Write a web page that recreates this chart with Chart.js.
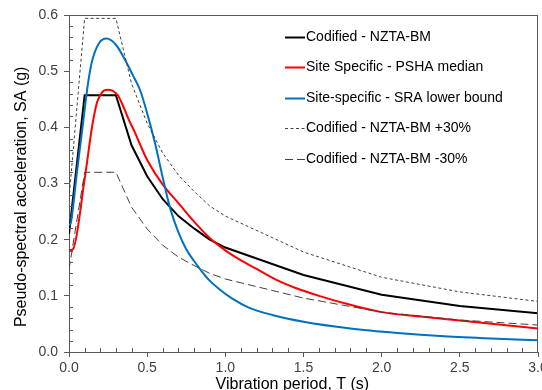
<!DOCTYPE html>
<html><head><meta charset="utf-8">
<script src="https://cdn.jsdelivr.net/npm/chart.js@4.4.1/dist/chart.umd.min.js"></script>
<style>html,body{margin:0;padding:0;overflow:hidden;background:#fff;width:542px;height:390px}
canvas{display:block}</style></head>
<body><canvas id="c" width="542" height="398" style="width:542px;height:398px"></canvas>
<script>
// ---- data ----
const codT       = [0, 0.1, 0.3, 0.4, 0.5, 0.6, 0.7, 0.8, 0.9, 1.0, 1.5, 2.0, 2.5, 3.0];
const codSA      = [0.210, 0.457, 0.457, 0.368, 0.313, 0.272, 0.242, 0.220, 0.200, 0.186, 0.137, 0.102, 0.082, 0.069];
const codPlus30  = [0.273, 0.594, 0.594, 0.478, 0.407, 0.354, 0.315, 0.286, 0.260, 0.242, 0.178, 0.133, 0.107, 0.090];
const codMinus30 = [0.147, 0.320, 0.320, 0.258, 0.219, 0.190, 0.169, 0.154, 0.140, 0.130, 0.096, 0.071, 0.057, 0.048];
const pshaT  = [0, 0.025, 0.1, 0.15, 0.18, 0.21, 0.245, 0.28, 0.31, 0.34, 0.38, 0.42, 0.46, 0.5, 0.6, 0.7, 0.8, 0.9, 1.0, 1.1, 1.2, 1.33, 1.45, 1.6, 1.8, 2.0, 2.25, 2.5, 2.75, 3.0];
const pshaSA = [0.181, 0.183, 0.308, 0.405, 0.445, 0.462, 0.467, 0.465, 0.458, 0.442, 0.415, 0.392, 0.366, 0.342, 0.298, 0.265, 0.232, 0.203, 0.181, 0.163, 0.148, 0.128, 0.114, 0.100, 0.084, 0.071, 0.063, 0.056, 0.049, 0.042];
const sraT   = [0, 0.013, 0.05, 0.092, 0.12, 0.145, 0.19, 0.24, 0.30, 0.37, 0.41, 0.455, 0.5, 0.55, 0.6, 0.65, 0.7, 0.75, 0.8, 0.84, 0.9, 0.97, 1.05, 1.15, 1.3, 1.5, 1.8, 2.1, 2.4, 2.7, 3.0];
const sraSA  = [0.225, 0.232, 0.318, 0.413, 0.475, 0.515, 0.549, 0.558, 0.547, 0.514, 0.492, 0.466, 0.425, 0.372, 0.310, 0.253, 0.213, 0.183, 0.162, 0.147, 0.127, 0.110, 0.094, 0.079, 0.066, 0.054, 0.042, 0.034, 0.028, 0.024, 0.021];
const seriesLabels = ['Codified - NZTA-BM', 'Site Specific - PSHA median', 'Site-specific - SRA lower bound', 'Codified - NZTA-BM +30%', 'Codified - NZTA-BM -30%'];
const xTickValues = [0, 0.5, 1.0, 1.5, 2.0, 2.5, 3.0];
const yTickValues = [0, 0.1, 0.2, 0.3, 0.4, 0.5, 0.6];
const xTitle = 'Vibration period, T (s)';
const yTitle = 'Pseudo-spectral acceleration, SA (g)';

const pts = (xs, ys) => xs.map((x, i) => ({x, y: ys[i]}));
const FONT = '"Liberation Sans", Arial, sans-serif';
const AXIS = '#595959';

const minorTicks = {
  id: 'minorTicks',
  afterDraw(chart) {
    const {ctx, chartArea: a, scales: {x, y}} = chart;
    ctx.save();
    ctx.strokeStyle = AXIS; ctx.lineWidth = 1;
    ctx.beginPath();
    ctx.moveTo(a.left, Math.round(a.top) + 0.5); ctx.lineTo(a.right, Math.round(a.top) + 0.5);
    ctx.moveTo(Math.round(a.right) - 0.5, a.top); ctx.lineTo(Math.round(a.right) - 0.5, a.bottom);
    for (let i = 1; i < 30; i++) {
      if (i % 5 === 0) continue;
      const px = Math.round(x.getPixelForValue(i / 10)) + 0.5;
      ctx.moveTo(px, a.bottom); ctx.lineTo(px, a.bottom - 4);
    }
    for (let i = 1; i < 30; i++) {
      if (i % 5 === 0) continue;
      const py = Math.round(y.getPixelForValue(i / 50)) + 0.5;
      ctx.moveTo(a.left, py); ctx.lineTo(a.left + 4, py);
    }
    ctx.stroke();
    ctx.restore();
  }
};

const insideLegend = {
  id: 'insideLegend',
  afterDraw(chart) {
    const {ctx} = chart;
    const x0 = 285, sample = 20, y0 = 37, dy = 30.4;
    ctx.save();
    ctx.font = '14px ' + FONT;
    ctx.textBaseline = 'middle';
    ctx.fillStyle = '#000';
    chart.data.datasets.forEach((ds, i) => {
      const yy = Math.round(y0 + i * dy) + 0.5;
      ctx.strokeStyle = ds.borderColor;
      ctx.lineWidth = ds.borderWidth;
      ctx.setLineDash(ds.borderDash || []);
      ctx.beginPath(); ctx.moveTo(x0, yy); ctx.lineTo(x0 + sample, yy); ctx.stroke();
      ctx.fillText(ds.label, x0 + sample + 1, yy);
    });
    ctx.restore();
  }
};

new Chart(document.getElementById('c'), {
  type: 'line',
  data: {
    datasets: [
      {label: seriesLabels[0], data: pts(codT, codSA), borderColor: '#000000', borderWidth: 2, tension: 0, order: 5},
      {label: seriesLabels[1], data: pts(pshaT, pshaSA), borderColor: '#FF0000', borderWidth: 2, cubicInterpolationMode: 'monotone', order: 4},
      {label: seriesLabels[2], data: pts(sraT, sraSA), borderColor: '#0070C0', borderWidth: 2, cubicInterpolationMode: 'monotone', order: 3},
      {label: seriesLabels[3], data: pts(codT, codPlus30), borderColor: '#404040', borderWidth: 1, borderDash: [3, 2.5], tension: 0, order: 2},
      {label: seriesLabels[4], data: pts(codT, codMinus30), borderColor: '#404040', borderWidth: 1, borderDash: [8, 4], tension: 0, order: 1}
    ]
  },
  options: {
    responsive: false,
    animation: false,
    devicePixelRatio: 1,
    elements: {point: {radius: 0}, line: {fill: false}},
    layout: {padding: {top: 15, right: 4, bottom: 0, left: 0}},
    plugins: {legend: {display: false}, tooltip: {enabled: false}, title: {display: false}},
    scales: {
      x: {
        type: 'linear', min: 0, max: 3,
        afterBuildTicks: s => { s.ticks = xTickValues.map(v => ({value: v})); },
        afterFit: s => { s.height = 46; s.paddingRight = 0; s.paddingLeft = 0; },
        ticks: {callback: v => v.toFixed(1), font: {family: FONT, size: 14}, color: '#404040', padding: 3, maxRotation: 0},
        grid: {drawOnChartArea: false, drawTicks: true, tickLength: 5, color: AXIS},
        border: {display: true, color: AXIS, width: 1},
        title: {display: true, text: xTitle + '     ', font: {family: FONT, size: 16}, color: '#000', padding: {top: 4, bottom: 4}}
      },
      y: {
        type: 'linear', min: 0, max: 0.6,
        afterBuildTicks: s => { s.ticks = yTickValues.map(v => ({value: v})); },
        afterFit: s => { s.width = 69; s.paddingTop = 0; s.paddingBottom = 0; },
        ticks: {callback: v => v.toFixed(1), font: {family: FONT, size: 14}, color: '#404040', padding: 6},
        grid: {drawOnChartArea: false, drawTicks: true, tickLength: 5, color: AXIS},
        border: {display: true, color: AXIS, width: 1},
        title: {display: true, text: yTitle + '      ', font: {family: FONT, size: 16}, color: '#000', padding: {top: 12, bottom: 0}}
      }
    }
  },
  plugins: [minorTicks, insideLegend]
});
</script>
</body></html>
